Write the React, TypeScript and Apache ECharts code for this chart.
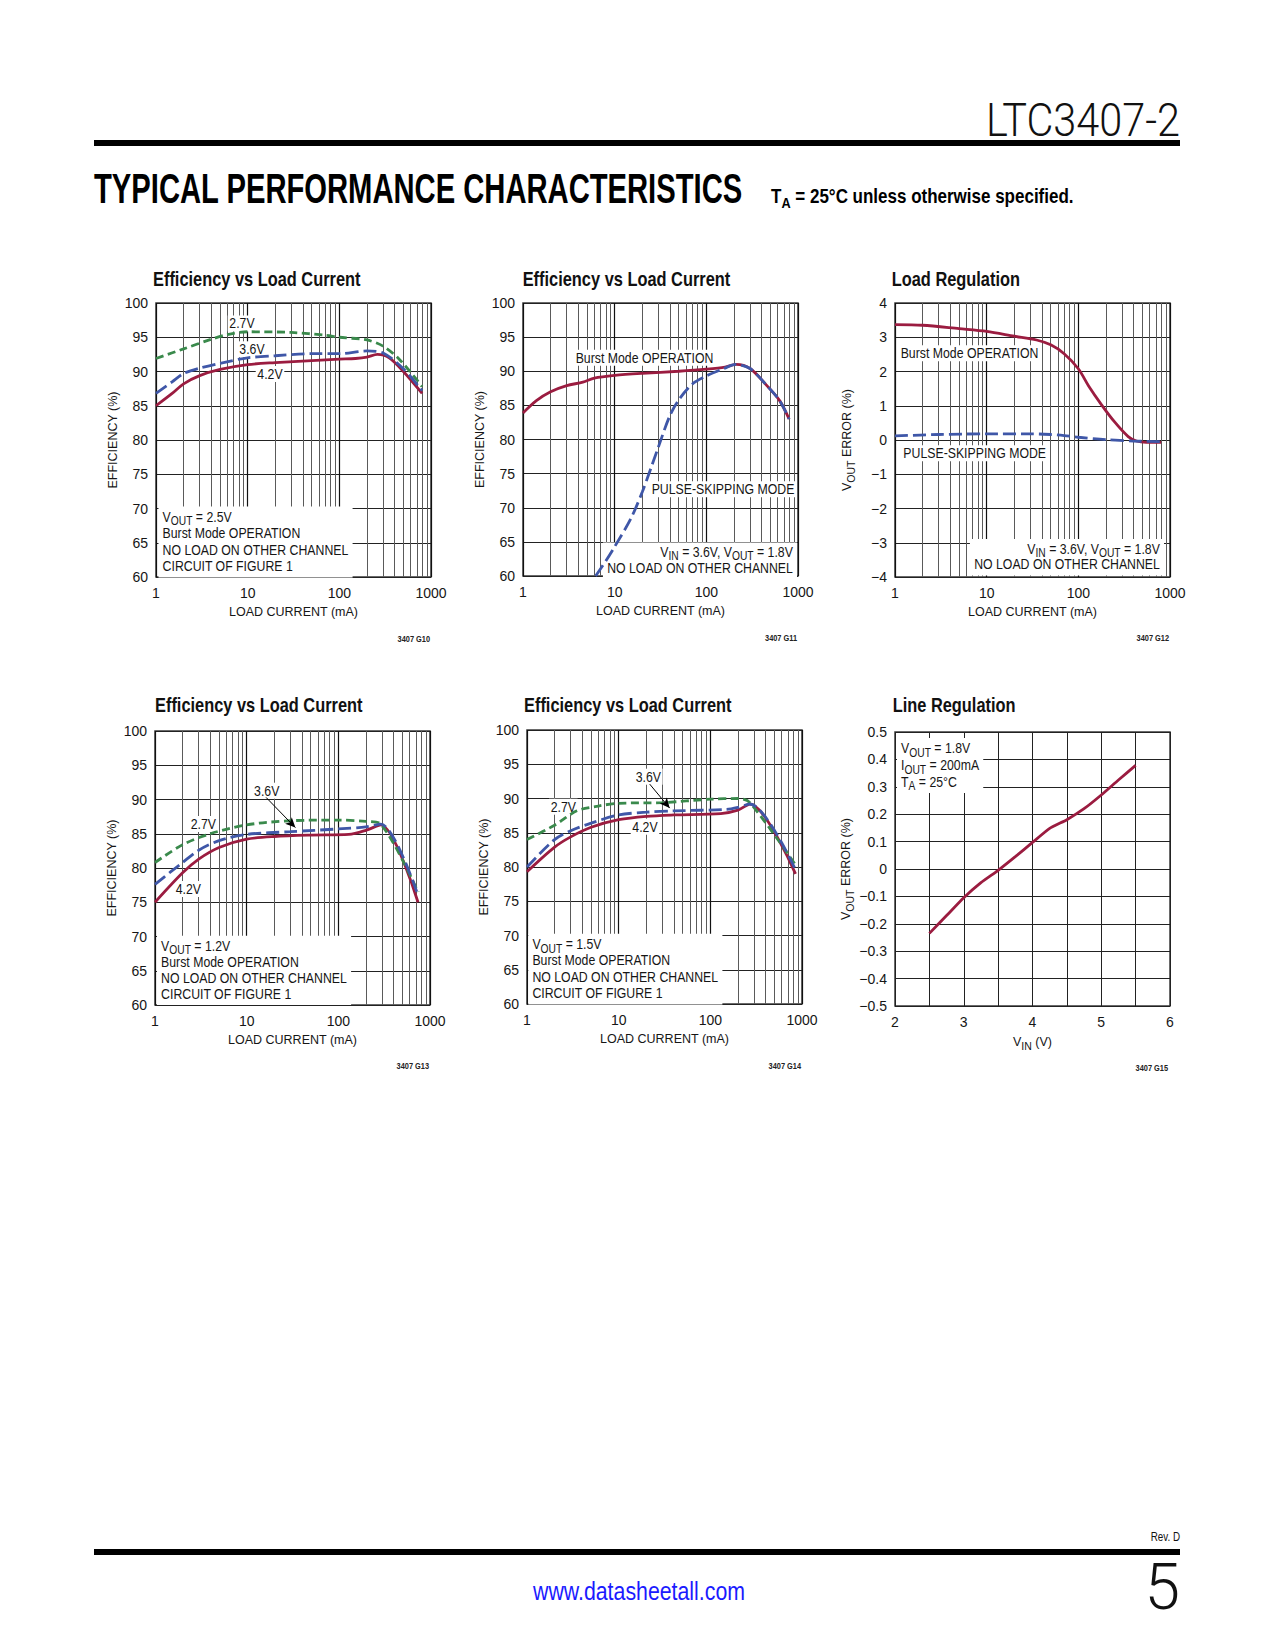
import React, { useEffect, useRef } from 'react';
import * as echarts from 'echarts';

const FONT = '"Liberation Sans", Arimo, Arial, sans-serif';
const LIGHT = 'Roboto, "Liberation Sans", sans-serif';
const NARROW = 0.82;
const INK = '#161616';
const RED = '#9b1c40';
const BLUE = '#3f57a8';
const GREEN = '#3a8a4c';

// log-axis minor grid positions (mA)
const LOG_MINOR = [2, 3, 4, 5, 6, 7, 8, 9, 20, 30, 40, 50, 60, 70, 80, 90, 200, 300, 400, 500, 600, 700, 800, 900];

// G10: VOUT = 2.5V
const g10Load42 = [1, 1.5, 2, 3, 5, 10, 20, 50, 100, 150, 200, 260, 350, 500, 800];
const g10Eff42 = [85.0, 86.8, 88.2, 89.4, 90.3, 91.0, 91.3, 91.6, 91.8, 91.9, 92.1, 92.5, 92.0, 90.0, 86.8];
const g10Load36 = [1, 1.5, 2, 3, 5, 10, 20, 50, 100, 200, 300, 500, 800];
const g10Eff36 = [86.8, 88.5, 89.7, 90.5, 91.2, 92.0, 92.3, 92.6, 92.6, 93.0, 92.7, 90.4, 87.2];
const g10Load27 = [1, 2, 4, 6, 10, 30, 70, 100, 200, 300, 450, 800];
const g10Eff27 = [91.9, 93.3, 94.7, 95.4, 95.8, 95.7, 95.3, 95.0, 94.6, 93.7, 91.8, 87.8];

// G11: VIN = 3.6V, VOUT = 1.8V
const g11LoadBurst = [1, 1.4, 2, 3, 4.5, 6, 10, 20, 50, 100, 160, 210, 300, 450, 630, 800];
const g11EffBurst = [83.9, 85.7, 87.0, 87.9, 88.4, 89.0, 89.4, 89.7, 90.0, 90.3, 90.6, 91.0, 90.4, 88.0, 85.7, 83.0];
const g11LoadPulse = [6.2, 8, 10, 15, 20, 25, 30, 40, 50, 70, 100, 150, 210, 300, 450, 630, 800];
const g11EffPulse = [60, 62.2, 64.3, 68.4, 72.3, 75.9, 78.9, 83.5, 85.8, 88.1, 89.3, 90.3, 91.0, 90.4, 88.0, 85.7, 83.0];

// G12: load regulation
const g12LoadBurst = [1, 2, 5, 10, 20, 35, 50, 70, 100, 130, 180, 250, 350, 430, 550, 800];
const g12ErrBurst = [3.37, 3.35, 3.25, 3.17, 3.03, 2.92, 2.78, 2.52, 2.08, 1.57, 1.02, 0.52, 0.10, -0.03, -0.07, -0.07];
const g12LoadPulse = [1, 3, 10, 30, 50, 70, 100, 200, 400, 800];
const g12ErrPulse = [0.12, 0.16, 0.18, 0.18, 0.16, 0.13, 0.08, 0.01, -0.03, -0.05];

// G13: VOUT = 1.2V
const g13Load42 = [1, 2, 3, 5, 10, 20, 50, 130, 200, 290, 740];
const g13Eff42 = [75.0, 79.3, 81.3, 83.0, 84.2, 84.6, 84.8, 84.9, 85.5, 86.3, 75.0];
const g13Load36 = [1, 1.5, 2, 3, 5, 10, 30, 100, 200, 290, 740];
const g13Eff36 = [77.6, 79.5, 80.8, 82.6, 84.0, 84.9, 85.3, 85.7, 86.0, 86.4, 76.0];
const g13Load27 = [1, 2, 4, 10, 30, 100, 200, 290, 740];
const g13Eff27 = [80.8, 83.4, 85.0, 86.3, 86.9, 87.0, 86.8, 86.4, 76.5];

// G14: VOUT = 1.5V
const g14Load42 = [1, 2, 3, 5, 10, 20, 40, 130, 200, 270, 850];
const g14Eff42 = [79.3, 82.9, 84.4, 85.8, 86.9, 87.4, 87.6, 87.8, 88.3, 89.2, 79.0];
const g14Load36 = [1, 2, 3, 5, 10, 20, 40, 150, 200, 270, 850];
const g14Eff36 = [80.0, 84.0, 85.3, 86.4, 87.6, 88.0, 88.2, 88.4, 88.7, 89.2, 79.6];
const g14Load27 = [1, 2, 3.5, 6, 10, 30, 100, 200, 270, 850];
const g14Eff27 = [84.0, 86.1, 88.2, 88.9, 89.3, 89.4, 89.9, 90.0, 89.4, 80.3];

// G15: line regulation
const g15Vin = [2.5, 2.75, 3.0, 3.25, 3.5, 3.75, 4.0, 4.25, 4.5, 4.75, 5.0, 5.25, 5.5];
const g15Err = [-0.235, -0.17, -0.105, -0.05, -0.005, 0.045, 0.097, 0.148, 0.18, 0.22, 0.27, 0.325, 0.378];

const GRIDS = [
  { left: 156, top: 303, width: 275, height: 274 },
  { left: 523, top: 303, width: 275, height: 273 },
  { left: 895, top: 303, width: 275, height: 274 },
  { left: 155, top: 731, width: 275, height: 274 },
  { left: 527, top: 730, width: 275, height: 274 },
  { left: 895, top: 732, width: 275, height: 274 },
];

const zip = (xs: number[], ys: number[]) => xs.map((x, i) => [x, ys[i]]);
const minus = (s: string) => s.replace('-', '\u2212');

const TICK = { fontFamily: FONT, fontSize: 14, color: INK };
const NAME_FS = 12.5;
const NAME_RICH = {
  n: { fontFamily: FONT, fontSize: NAME_FS, color: INK, lineHeight: 15 },
  s: { fontFamily: FONT, fontSize: 10.5, color: INK, lineHeight: 7, height: 7, verticalAlign: 'bottom' },
};

const logX = (i: number) => ({
  type: 'log', logBase: 10, min: 1, max: 1000, gridIndex: i,
  name: 'LOAD CURRENT (mA)', nameLocation: 'middle', nameGap: 28,
  nameTextStyle: { fontFamily: FONT, fontSize: NAME_FS, color: INK },
  axisLine: { show: false }, axisTick: { show: false },
  axisLabel: { ...TICK, margin: 9, formatter: (v: number) => String(Math.round(v)) },
  splitLine: { show: true, lineStyle: { color: '#111', width: 1.2 } },
});

const effY = (i: number) => ({
  type: 'value', min: 60, max: 100, interval: 5, gridIndex: i,
  name: 'EFFICIENCY (%)', nameLocation: 'middle', nameGap: 37,
  nameTextStyle: { fontFamily: FONT, fontSize: NAME_FS, color: INK },
  axisLine: { show: false }, axisTick: { show: false },
  axisLabel: { ...TICK, margin: 8 },
  splitLine: { show: true, lineStyle: { color: '#222', width: 1 } },
});

const minorGrid = {
  silent: true, symbol: 'none', z: 1, animation: false,
  label: { show: false },
  lineStyle: { color: '#5a5a5a', width: 1, type: 'solid' },
  data: LOG_MINOR.map((v) => ({ xAxis: v })),
};

const line = (gi: number, xs: number[], ys: number[], color: string, dash: any, extra: any = {}) => ({
  type: 'line', xAxisIndex: gi, yAxisIndex: gi, data: zip(xs, ys),
  showSymbol: false, symbol: 'none', smooth: 0.3,
  lineStyle: { color, width: 2.8, type: dash, cap: 'butt' },
  z: 3, silent: true, animation: false, ...extra,
});

const arrow = (from: number[], to: number[]) => ({
  silent: true, symbol: ['none', 'arrow'], symbolSize: [7, 10], z: 6, animation: false,
  label: { show: false },
  lineStyle: { color: '#000', width: 1, type: 'solid' },
  data: [[{ coord: from }, { coord: to }]],
});

const GREEN_DASH = [8, 4.5];
const BLUE_DASH = [13, 5];

const RICH = {
  n: { fontFamily: FONT, fontSize: 15, fill: INK, lineHeight: 16.5 },
  s: { fontFamily: FONT, fontSize: 12.5, fill: INK, lineHeight: 8, height: 8, verticalAlign: 'bottom' },
};

const label = (x: number, y: number, text: string, align = 'center') => ({
  type: 'text', x, y, z: 2, silent: true, scaleX: NARROW,
  style: {
    text, align, verticalAlign: 'middle', fontFamily: FONT, fontSize: 15, fill: INK,
    backgroundColor: '#fff', padding: [1, 2, 0, 2],
  },
});

const noteBox = (x: number, y: number, lines: string[], align = 'left', lh = 16.5) => ({
  type: 'text', x, y, z: 2, silent: true, scaleX: NARROW,
  style: {
    text: lines.join('\n'), align, verticalAlign: 'top',
    fontFamily: FONT, fontSize: 15, fill: INK, lineHeight: lh,
    backgroundColor: '#fff', padding: [2, 5, 3, 5],
    rich: {
      n: { ...RICH.n, lineHeight: lh },
      s: RICH.s,
    },
  },
});

const title = (x: number, y: number, text: string) => ({
  type: 'text', x, y, z: 2, silent: true, scaleX: NARROW,
  style: { text, align: 'left', verticalAlign: 'middle', fontFamily: FONT, fontSize: 20, fontWeight: 'bold', fill: '#111' },
});

const figId = (x: number, y: number, text: string) => ({
  type: 'text', x, y, z: 2, silent: true, scaleX: NARROW,
  style: { text, align: 'right', verticalAlign: 'middle', fontFamily: FONT, fontSize: 9, fontWeight: 'bold', fill: '#222' },
});

function buildOption() {
  const grid = GRIDS.map((g) => ({ ...g, show: true, borderColor: '#3a3a3a', borderWidth: 1.5, backgroundColor: 'transparent' }));

  const xAxis: any[] = [0, 1, 2, 3, 4].map((i) => logX(i));
  xAxis.push({
    type: 'value', min: 2, max: 6, interval: 0.5, gridIndex: 5,
    name: '{n|V}{s|IN}{n| (V)}', nameLocation: 'middle', nameGap: 28,
    nameTextStyle: { fontFamily: FONT, fontSize: NAME_FS, color: INK, rich: NAME_RICH },
    axisLine: { show: false }, axisTick: { show: false },
    axisLabel: { ...TICK, margin: 9, formatter: (v: number) => (Math.abs(v % 1) < 1e-6 ? String(Math.round(v)) : '') },
    splitLine: { show: true, lineStyle: { color: '#222', width: 1 } },
  });

  const yAxis: any[] = [effY(0), effY(1),
    {
      type: 'value', min: -4, max: 4, interval: 1, gridIndex: 2,
      name: '{n|V}{s|OUT}{n| ERROR (%)}', nameLocation: 'middle', nameGap: 41,
      nameTextStyle: { fontFamily: FONT, fontSize: NAME_FS, color: INK, rich: NAME_RICH },
      axisLine: { show: false }, axisTick: { show: false },
      axisLabel: { ...TICK, margin: 8, formatter: (v: number) => minus(String(Math.round(v))) },
      splitLine: { show: true, lineStyle: { color: '#222', width: 1 } },
    },
    effY(3), effY(4),
    {
      type: 'value', min: -0.5, max: 0.5, interval: 0.1, gridIndex: 5,
      name: '{n|V}{s|OUT}{n| ERROR (%)}', nameLocation: 'middle', nameGap: 42,
      nameTextStyle: { fontFamily: FONT, fontSize: NAME_FS, color: INK, rich: NAME_RICH },
      axisLine: { show: false }, axisTick: { show: false },
      axisLabel: {
        ...TICK, margin: 8,
        formatter: (v: number) => (Math.abs(v) < 1e-9 ? '0' : minus(v.toFixed(1))),
      },
      splitLine: { show: true, lineStyle: { color: '#222', width: 1 } },
    },
  ];

  const series: any[] = [
    // G10
    line(0, g10Load42, g10Eff42, RED, 'solid', { markLine: minorGrid }),
    line(0, g10Load27, g10Eff27, GREEN, GREEN_DASH),
    line(0, g10Load36, g10Eff36, BLUE, BLUE_DASH),
    // G11
    line(1, g11LoadBurst, g11EffBurst, RED, 'solid', { markLine: minorGrid }),
    line(1, g11LoadPulse, g11EffPulse, BLUE, BLUE_DASH),
    // G12
    line(2, g12LoadBurst, g12ErrBurst, RED, 'solid', { markLine: minorGrid }),
    line(2, g12LoadPulse, g12ErrPulse, BLUE, BLUE_DASH),
    // G13
    line(3, g13Load42, g13Eff42, RED, 'solid', { markLine: minorGrid }),
    line(3, g13Load27, g13Eff27, GREEN, GREEN_DASH),
    line(3, g13Load36, g13Eff36, BLUE, BLUE_DASH, { markLine: arrow([16.3, 90.3], [34, 85.9]) }),
    // G14
    line(4, g14Load42, g14Eff42, RED, 'solid', { markLine: minorGrid }),
    line(4, g14Load27, g14Eff27, GREEN, GREEN_DASH),
    line(4, g14Load36, g14Eff36, BLUE, BLUE_DASH, { markLine: arrow([21.8, 92.1], [36, 88.6]) }),
    // G15
    line(5, g15Vin, g15Err, RED, 'solid', { smooth: 0.15 }),
  ];

  const graphic: any[] = [
    // page header
    {
      type: 'text', x: 1180, y: 120, scaleX: 0.9, silent: true,
      style: { text: 'LTC3407-2', align: 'right', verticalAlign: 'middle', fontFamily: LIGHT, fontWeight: 300, fontSize: 46, fill: '#111' },
    },
    { type: 'rect', silent: true, shape: { x: 94, y: 140, width: 1086, height: 6 }, style: { fill: '#000' } },
    {
      type: 'text', x: 94, y: 188, scaleX: 0.73, scaleY: 1.08, silent: true,
      style: { text: 'TYPICAL PERFORMANCE CHARACTERISTICS', align: 'left', verticalAlign: 'middle', fontFamily: FONT, fontSize: 40, fontWeight: 'bold', fill: '#000' },
    },
    {
      type: 'text', x: 771, y: 196, scaleX: 0.85, silent: true,
      style: {
        text: '{b|T}{bs|A}{b| = 25\u00b0C unless otherwise specified.}', align: 'left', verticalAlign: 'middle',
        rich: {
          b: { fontFamily: FONT, fontSize: 20, fontWeight: 'bold', fill: '#000', lineHeight: 22 },
          bs: { fontFamily: FONT, fontSize: 15, fontWeight: 'bold', fill: '#000', lineHeight: 9, height: 9, verticalAlign: 'bottom' },
        },
      },
    },
    // chart titles
    title(153, 279, 'Efficiency vs Load Current'),
    title(522.7, 279, 'Efficiency vs Load Current'),
    title(891.7, 279, 'Load Regulation'),
    title(155, 705, 'Efficiency vs Load Current'),
    title(524, 705, 'Efficiency vs Load Current'),
    title(892.7, 705, 'Line Regulation'),
    // figure ids
    figId(430, 639, '3407 G10'),
    figId(797, 638, '3407 G11'),
    figId(1169, 638, '3407 G12'),
    figId(429, 1066, '3407 G13'),
    figId(801, 1066, '3407 G14'),
    figId(1168, 1068, '3407 G15'),
    // G10 annotations
    label(242, 323.5, '2.7V'),
    label(252, 349.3, '3.6V'),
    label(270, 374, '4.2V'),
    noteBox(158.5, 506.5, ['{n|V}{s|OUT}{n| = 2.5V}', '{n|Burst Mode OPERATION}', '{n|NO LOAD ON OTHER CHANNEL}', '{n|CIRCUIT OF FIGURE 1}']),
    // G11 annotations
    label(574, 357.7, 'Burst Mode OPERATION', 'left'),
    label(650, 489.3, 'PULSE-SKIPPING MODE', 'left'),
    noteBox(797, 542.5, ['{n|V}{s|IN}{n| = 3.6V, V}{s|OUT}{n| = 1.8V}', '{n|NO LOAD ON OTHER CHANNEL}'], 'right', 15.6),
    // G12 annotations
    label(899, 353.3, 'Burst Mode OPERATION', 'left'),
    label(901.7, 453.3, 'PULSE-SKIPPING MODE', 'left'),
    noteBox(1164, 539, ['{n|V}{s|IN}{n| = 3.6V, V}{s|OUT}{n| = 1.8V}', '{n|NO LOAD ON OTHER CHANNEL}'], 'right', 15.7),
    // G13 annotations
    label(266.7, 790.7, '3.6V'),
    label(203.3, 824, '2.7V'),
    label(188.3, 889, '4.2V'),
    noteBox(157, 935.7, ['{n|V}{s|OUT}{n| = 1.2V}', '{n|Burst Mode OPERATION}', '{n|NO LOAD ON OTHER CHANNEL}', '{n|CIRCUIT OF FIGURE 1}'], 'left', 16.1),
    // G14 annotations
    label(648.3, 776.7, '3.6V'),
    label(563.3, 806.7, '2.7V'),
    label(645, 826.7, '4.2V'),
    noteBox(528.3, 933.8, ['{n|V}{s|OUT}{n| = 1.5V}', '{n|Burst Mode OPERATION}', '{n|NO LOAD ON OTHER CHANNEL}', '{n|CIRCUIT OF FIGURE 1}'], 'left', 16.4),
    // G15 annotations
    noteBox(897, 738, ['{n|V}{s|OUT}{n| = 1.8V}', '{n|I}{s|OUT}{n| = 200mA}', '{n|T}{s|A}{n| = 25\u00b0C}'], 'left', 16.7),
    // footer
    {
      type: 'text', x: 1180, y: 1537, scaleX: NARROW, silent: true,
      style: { text: 'Rev. D', align: 'right', verticalAlign: 'middle', fontFamily: FONT, fontSize: 12, fill: '#111' },
    },
    { type: 'rect', silent: true, shape: { x: 94, y: 1549, width: 1086, height: 6 }, style: { fill: '#000' } },
    {
      type: 'text', x: 639, y: 1591, scaleX: NARROW, silent: true,
      style: { text: 'www.datasheetall.com', align: 'center', verticalAlign: 'middle', fontFamily: FONT, fontSize: 26, fill: '#1a1aff' },
    },
    {
      type: 'text', x: 1180, y: 1587, scaleX: 1.0, silent: true,
      style: { text: '5', align: 'right', verticalAlign: 'middle', fontFamily: LIGHT, fontWeight: 300, fontSize: 64, fill: '#111' },
    },
  ];

  return { animation: false, backgroundColor: '#fff', grid, xAxis, yAxis, series, graphic };
}

export default function App() {
  const ref = useRef<HTMLDivElement>(null);
  useEffect(() => {
    const chart = echarts.init(ref.current as HTMLDivElement, null, { renderer: 'svg' });
    chart.setOption(buildOption() as any);
    return () => chart.dispose();
  }, []);
  return (
    <div
      ref={ref}
      style={{ position: 'absolute', left: 0, top: 0, width: 1275, height: 1650, background: '#fff' }}
    />
  );
}
